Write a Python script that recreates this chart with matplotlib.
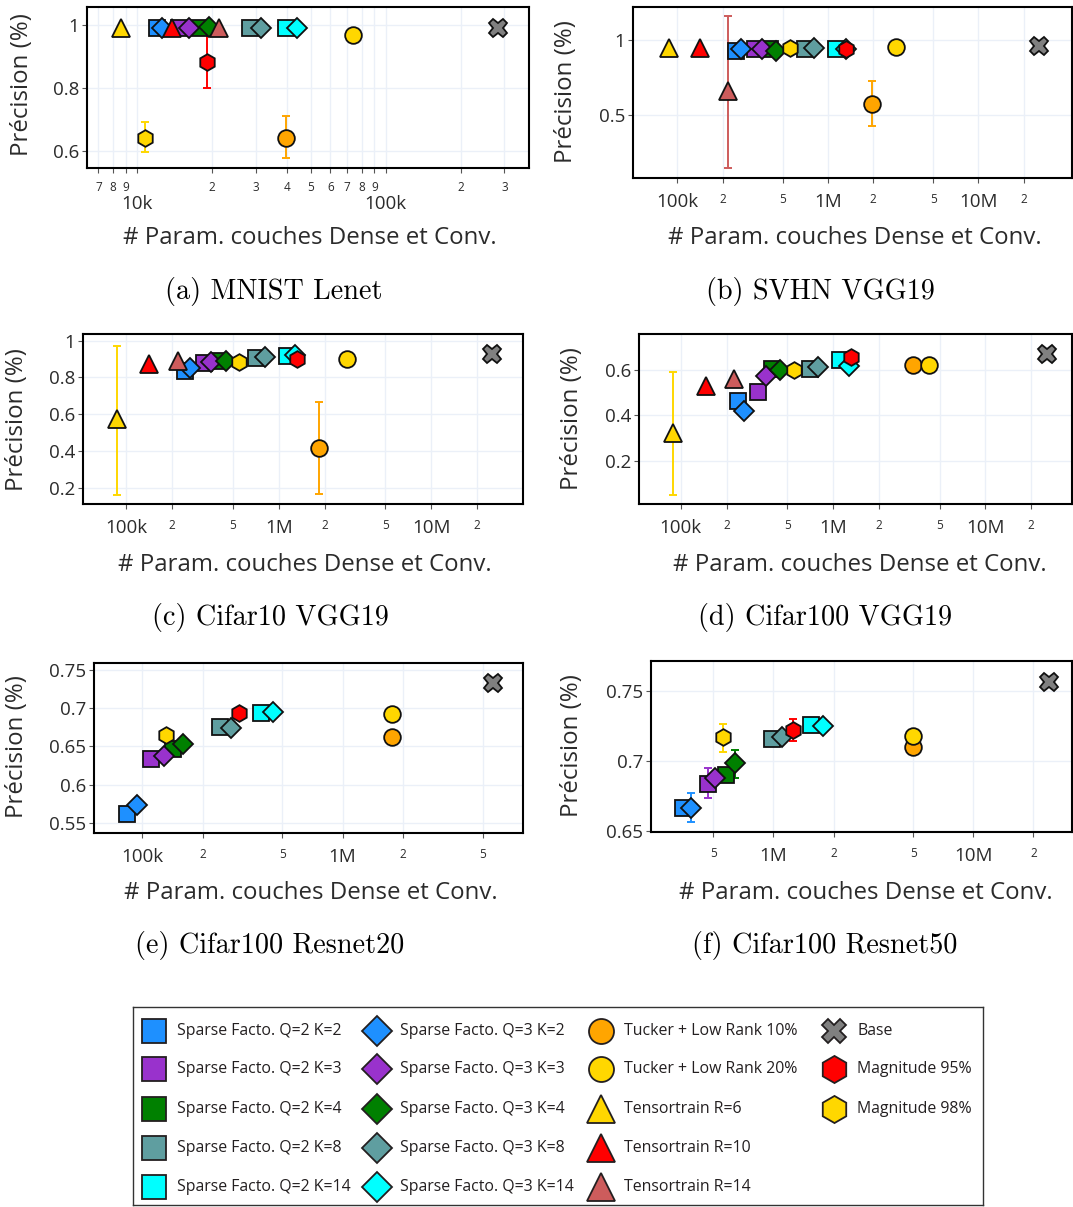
import numpy as np
import matplotlib.pyplot as plt

nan = np.nan

# Methods in legend order (column by column)
methods = [
    'Sparse Facto. Q=2 K=2', 'Sparse Facto. Q=2 K=3', 'Sparse Facto. Q=2 K=4',
    'Sparse Facto. Q=2 K=8', 'Sparse Facto. Q=2 K=14',
    'Sparse Facto. Q=3 K=2', 'Sparse Facto. Q=3 K=3', 'Sparse Facto. Q=3 K=4',
    'Sparse Facto. Q=3 K=8', 'Sparse Facto. Q=3 K=14',
    'Tucker + Low Rank 10%', 'Tucker + Low Rank 20%',
    'Tensortrain R=6', 'Tensortrain R=10', 'Tensortrain R=14',
    'Base', 'Magnitude 95%', 'Magnitude 98%',
]
colors = [
    '#1E90FF', '#9932CC', '#008000', '#5F9EA0', '#00FFFF',
    '#1E90FF', '#9932CC', '#008000', '#5F9EA0', '#00FFFF',
    '#FFA500', '#FFD700',
    '#FFD700', '#FF0000', '#CD5C5C',
    '#808080', '#FF0000', '#FFD700',
]
markers = ['s'] * 5 + ['D'] * 5 + ['o', 'o'] + ['^'] * 3 + ['X', 'h', 'h']

# (a) MNIST Lenet
mnist_params = [12.0e3, 14.8e3, 17.9e3, 28.4e3, 39.9e3,
                12.6e3, 16.2e3, 19.5e3, 31.5e3, 43.9e3,
                39.8e3, 74.2e3, 8.66e3, 13.9e3, 21.3e3, 284e3, 19.1e3, 10.8e3]
mnist_acc = [0.99, 0.99, 0.99, 0.99, 0.99,
             0.99, 0.99, 0.995, 0.992, 0.992,
             0.642, 0.968, 0.99, 0.99, 0.99, 0.99, 0.882, 0.642]
mnist_lo = [nan] * 10 + [0.578, nan, nan, nan, nan, nan, 0.80, 0.595]
mnist_hi = [nan] * 10 + [0.711, nan, nan, nan, nan, nan, 0.968, 0.69]

# (b) SVHN VGG19
svhn_params = [245e3, 327e3, 411e3, 710e3, 1.13e6,
               266e3, 363e3, 451e3, 815e3, 1.32e6,
               1.96e6, 2.85e6, 87.5e3, 141e3, 217e3, 25.2e6, 1.32e6, 560e3]
svhn_acc = [0.926, 0.935, 0.935, 0.94, 0.94,
            0.935, 0.935, 0.926, 0.942, 0.94,
            0.574, 0.949, 0.942, 0.942, 0.658, 0.955, 0.94, 0.942]
svhn_lo = [nan] * 10 + [0.424, nan, nan, nan, 0.145, nan, nan, nan]
svhn_hi = [nan] * 10 + [0.725, nan, nan, nan, 1.156, nan, nan, nan]

# (c) Cifar10 VGG19
c10_params = [241e3, 322e3, 407e3, 713e3, 1.13e6,
              261e3, 357e3, 452e3, 817e3, 1.27e6,
              1.83e6, 2.8e6, 86.8e3, 141e3, 217e3, 25e6, 1.31e6, 549e3]
c10_acc = [0.834, 0.879, 0.888, 0.906, 0.918,
           0.852, 0.882, 0.891, 0.91, 0.924,
           0.418, 0.902, 0.573, 0.871, 0.889, 0.928, 0.902, 0.882]
c10_lo = [nan] * 10 + [0.169, nan, 0.164, nan, nan, nan, nan, nan]
c10_hi = [nan] * 10 + [0.667, nan, 0.969, nan, nan, nan, nan, nan]

# (d) Cifar100 VGG19
c100_params = [236e3, 321e3, 399e3, 704e3, 1.11e6,
               261e3, 360e3, 449e3, 801e3, 1.27e6,
               3.35e6, 4.29e6, 88.3e3, 147e3, 224e3, 25.5e6, 1.32e6, 558e3]
c100_acc = [0.462, 0.501, 0.603, 0.603, 0.641,
            0.418, 0.571, 0.60, 0.612, 0.615,
            0.622, 0.622, 0.323, 0.527, 0.559, 0.669, 0.655, 0.60]
c100_lo = [nan] * 12 + [0.052, 0.512, nan, nan, nan, nan]
c100_hi = [nan] * 12 + [0.588, 0.535, nan, nan, nan, nan]

# (e) Cifar100 Resnet20
r20_params = [83.5e3, 111e3, 142e3, 244e3, 391e3,
              94.5e3, 128e3, 160e3, 278e3, 448e3,
              1.76e6, 1.76e6, nan, nan, nan, 5.62e6, 304e3, 132e3]
r20_acc = [0.562, 0.634, 0.647, 0.676, 0.694,
           0.573, 0.638, 0.6535, 0.6745, 0.6947,
           0.6624, 0.693, nan, nan, nan, 0.7338, 0.694, 0.6656]
r20_lo = [nan] * 18
r20_hi = [nan] * 18

# (f) Cifar100 Resnet50
r50_params = [352e3, 468e3, 581e3, 981e3, 1.55e6,
              389e3, 510e3, 641e3, 1.1e6, 1.77e6,
              5.0e6, 5.0e6, nan, nan, nan, 23.8e6, 1.26e6, 558e3]
r50_acc = [0.6665, 0.6837, 0.690, 0.7155, 0.7256,
           0.6665, 0.688, 0.6983, 0.717, 0.7249,
           0.7098, 0.7174, nan, nan, nan, 0.7559, 0.7221, 0.7167]
r50_lo = [nan, 0.6735, nan, 0.711, nan, 0.6566, nan, 0.688, nan, 0.7215,
          nan, 0.713, nan, nan, nan, nan, 0.7145, 0.7066]
r50_hi = [nan, 0.695, nan, 0.720, nan, 0.677, nan, 0.708, nan, 0.729,
          nan, 0.722, nan, nan, nan, nan, 0.7297, 0.7263]

captions = ['(a) MNIST Lenet', '(b) SVHN VGG19', '(c) Cifar10 VGG19',
            '(d) Cifar100 VGG19', '(e) Cifar100 Resnet20', '(f) Cifar100 Resnet50']

W, H = 1073, 1207
SANS = 'Open Sans'
TXT = '#2b2b2b'
GRID = '#EBF0F8'

plot_ms = {'s': 11.5, 'D': 9.8, 'o': 12, '^': 12.5, 'h': 12, 'X': 13.5}
legend_ms = {'s': 17, 'D': 15, 'o': 18, '^': 20, 'h': 19.5, 'X': 17.5}

fig = plt.figure(figsize=(W / 100, H / 100), dpi=100)


def px_axes(left, top, right, bottom):
    return fig.add_axes([left / W, 1 - bottom / H, (right - left) / W, (bottom - top) / H])


def draw_panel(ax, params, acc, lo, hi):
    for i in range(len(methods)):
        x, y = params[i], acc[i]
        if np.isnan(x):
            continue
        if not np.isnan(lo[i]):
            ax.errorbar([x], [y], yerr=[[y - lo[i]], [hi[i] - y]], fmt='none',
                        ecolor=colors[i], elinewidth=1.4, capsize=3.2,
                        capthick=1.4, zorder=2)
        ax.plot([x], [y], marker=markers[i], ms=plot_ms[markers[i]],
                mfc=colors[i], mec='#111111', mew=1.3, ls='none', zorder=3)


def style_axes(ax, xlim, ylim, yticks, ylabels, major, major_lab, minor, minor_lab, two_rows):
    ax.set_xscale('log')
    ax.set_xlim(*xlim)
    ax.set_ylim(*ylim)
    ax.set_yticks(yticks, labels=ylabels)
    ax.set_xticks(major, labels=major_lab)
    ax.set_xticks(minor, labels=minor_lab, minor=True)
    ax.set_axisbelow(True)
    ax.grid(True, which='both', axis='x', color=GRID, lw=1.0)
    ax.grid(True, which='major', axis='y', color=GRID, lw=1.0)
    for sp in ax.spines.values():
        sp.set_linewidth(1.5)
        sp.set_color('black')
    ax.tick_params(axis='both', which='both', direction='out', length=3.6,
                   width=0.8, color='#555555', labelcolor=TXT)
    ax.tick_params(axis='y', labelsize=13.5, pad=2)
    if two_rows:
        ax.tick_params(axis='x', which='major', labelsize=13.5, pad=16)
        ax.tick_params(axis='x', which='minor', labelsize=8.5, pad=6)
    else:
        ax.tick_params(axis='x', which='major', labelsize=13.5, pad=7)
        ax.tick_params(axis='x', which='minor', labelsize=8.5, pad=7)
    for lab in ax.get_xticklabels(which='both') + ax.get_yticklabels():
        lab.set_fontfamily(SANS)


# panel (a)
ax = px_axes(87, 7, 529, 168)
draw_panel(ax, mnist_params, mnist_acc, mnist_lo, mnist_hi)
style_axes(ax, (6.3e3, 3.77e5), (0.545, 1.058), [0.6, 0.8, 1], ['0.6', '0.8', '1'],
           [1e4, 1e5], ['10k', '100k'],
           [7e3, 8e3, 9e3, 2e4, 3e4, 4e4, 5e4, 6e4, 7e4, 8e4, 9e4, 2e5, 3e5],
           ['7', '8', '9', '2', '3', '4', '5', '6', '7', '8', '9', '2', '3'], True)

# panel (b)
ax = px_axes(633, 7, 1072, 178)
draw_panel(ax, svhn_params, svhn_acc, svhn_lo, svhn_hi)
style_axes(ax, (5.08e4, 4.18e7), (0.078, 1.218), [0.5, 1], ['0.5', '1'],
           [1e5, 1e6, 1e7], ['100k', '1M', '10M'],
           [2e5, 5e5, 2e6, 5e6, 2e7], ['2', '5', '2', '5', '2'], False)

# panel (c)
ax = px_axes(83, 334, 523, 504)
draw_panel(ax, c10_params, c10_acc, c10_lo, c10_hi)
style_axes(ax, (5.2e4, 4.0e7), (0.113, 1.036), [0.2, 0.4, 0.6, 0.8, 1],
           ['0.2', '0.4', '0.6', '0.8', '1'],
           [1e5, 1e6, 1e7], ['100k', '1M', '10M'],
           [2e5, 5e5, 2e6, 5e6, 2e7], ['2', '5', '2', '5', '2'], False)

# panel (d)
ax = px_axes(639, 334, 1072, 504)
draw_panel(ax, c100_params, c100_acc, c100_lo, c100_hi)
style_axes(ax, (5.32e4, 3.7e7), (0.012, 0.756), [0.2, 0.4, 0.6], ['0.2', '0.4', '0.6'],
           [1e5, 1e6, 1e7], ['100k', '1M', '10M'],
           [2e5, 5e5, 2e6, 5e6, 2e7], ['2', '5', '2', '5', '2'], False)

# panel (e)
ax = px_axes(94, 663, 523, 833)
draw_panel(ax, r20_params, r20_acc, r20_lo, r20_hi)
style_axes(ax, (5.74e4, 7.96e6), (0.5364, 0.7596), [0.55, 0.6, 0.65, 0.7, 0.75],
           ['0.55', '0.6', '0.65', '0.7', '0.75'],
           [1e5, 1e6], ['100k', '1M'],
           [2e5, 5e5, 2e6, 5e6], ['2', '5', '2', '5'], False)

# panel (f)
ax = px_axes(651, 661, 1072, 832)
draw_panel(ax, r50_params, r50_acc, r50_lo, r50_hi)
style_axes(ax, (2.44e5, 3.12e7), (0.6495, 0.771), [0.65, 0.7, 0.75], ['0.65', '0.7', '0.75'],
           [1e6, 1e7], ['1M', '10M'],
           [5e5, 2e6, 5e6, 2e7], ['5', '2', '5', '2'], False)

# axis titles and captions, placed in figure pixels
xlab_pos = [(310, 238), (855, 238), (305, 565), (860, 565), (311, 893), (866, 893)]
ylab_pos = [(22, 85), (566, 92), (17, 420), (572, 419), (17, 747), (572, 746)]
cap_pos = [(274, 292), (820, 292), (270, 618), (825, 618), (270, 945), (825, 945)]
for (xx, xy), (yx, yy), (cx, cy), cap in zip(xlab_pos, ylab_pos, cap_pos, captions):
    fig.text(xx / W, 1 - xy / H, '# Param. couches Dense et Conv.', ha='center', va='center',
             fontsize=17.3, family=SANS, color=TXT)
    fig.text(yx / W, 1 - yy / H, 'Précision (%)', ha='center', va='center', rotation=90,
             fontsize=17.3, family=SANS, color=TXT)
    fig.text(cx / W, 1 - cy / H, cap, ha='center', va='center', fontsize=20.3,
             family='cmr10', color='black')

# legend box
lg = px_axes(133, 1007, 983, 1205)
lg.set_xlim(133, 983)
lg.set_ylim(1205, 1007)
lg.set_xticks([])
lg.set_yticks([])
for sp in lg.spines.values():
    sp.set_linewidth(1.0)
    sp.set_color('#333333')
col_x = [153.8, 376.7, 600.7, 834]
row_y = [1030.7, 1069.3, 1108.7, 1147.7, 1186.7]
for i, name in enumerate(methods):
    c, r = i // 5, i % 5
    lg.plot([col_x[c]], [row_y[r]], marker=markers[i], ms=legend_ms[markers[i]],
            mfc=colors[i], mec='#231f20', mew=1.3, ls='none', clip_on=False)
    lg.text(col_x[c] + 23.5, row_y[r], name, ha='left', va='center',
            fontsize=11.4, family=SANS, color='#231f20')

fig.savefig('out.png', dpi=100)
